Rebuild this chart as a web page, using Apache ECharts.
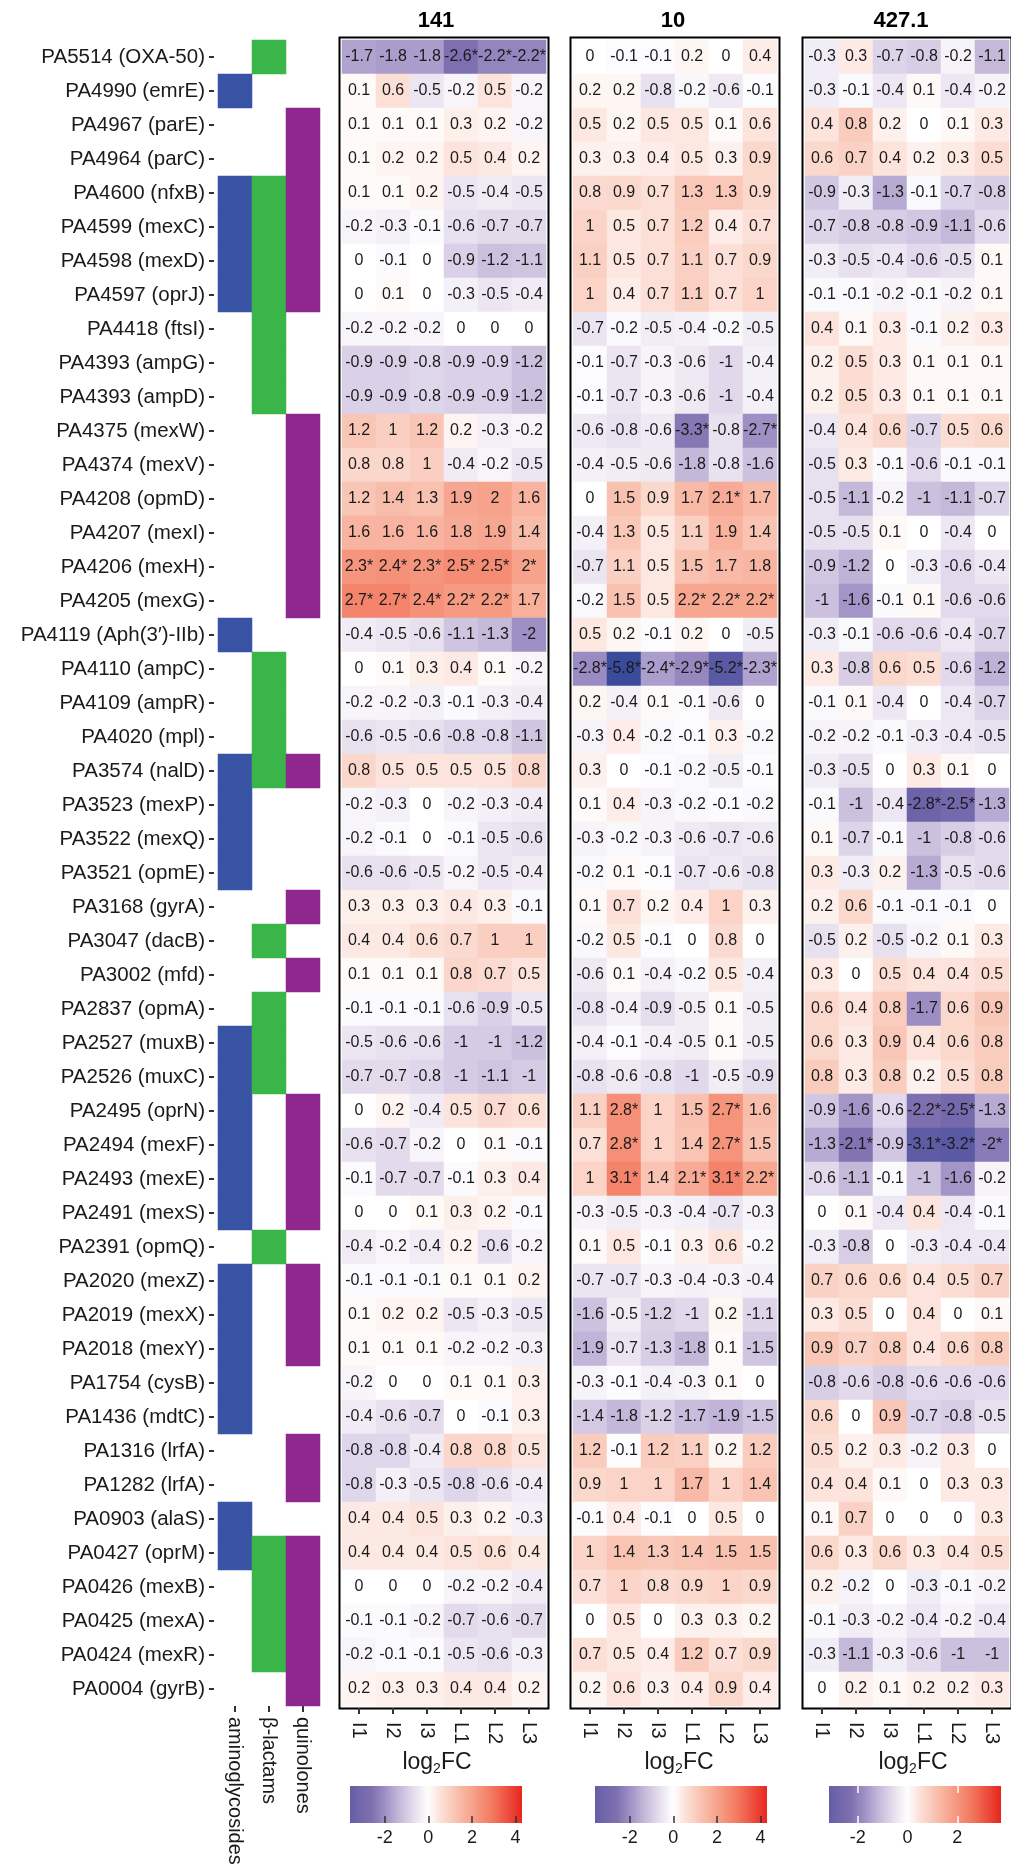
<!DOCTYPE html>
<html>
<head>
<meta charset="utf-8">
<title>Efflux / resistance gene expression heatmap</title>
<script src="https://cdn.jsdelivr.net/npm/echarts@6/dist/echarts.min.js"></script>
<style>
  html, body { margin: 0; padding: 0; background: #fff; }
  #chart { width: 1011px; height: 1870px; }
</style>
</head>
<body>
<div id="chart"></div>
<script>
// ---- data ---------------------------------------------------------------
const genes = [
  'PA5514 (OXA-50)', 'PA4990 (emrE)', 'PA4967 (parE)', 'PA4964 (parC)', 'PA4600 (nfxB)',
  'PA4599 (mexC)', 'PA4598 (mexD)', 'PA4597 (oprJ)', 'PA4418 (ftsI)', 'PA4393 (ampG)',
  'PA4393 (ampD)', 'PA4375 (mexW)', 'PA4374 (mexV)', 'PA4208 (opmD)', 'PA4207 (mexI)',
  'PA4206 (mexH)', 'PA4205 (mexG)', 'PA4119 (Aph(3′)-IIb)', 'PA4110 (ampC)', 'PA4109 (ampR)',
  'PA4020 (mpl)', 'PA3574 (nalD)', 'PA3523 (mexP)', 'PA3522 (mexQ)', 'PA3521 (opmE)',
  'PA3168 (gyrA)', 'PA3047 (dacB)', 'PA3002 (mfd)', 'PA2837 (opmA)', 'PA2527 (muxB)',
  'PA2526 (muxC)', 'PA2495 (oprN)', 'PA2494 (mexF)', 'PA2493 (mexE)', 'PA2491 (mexS)',
  'PA2391 (opmQ)', 'PA2020 (mexZ)', 'PA2019 (mexX)', 'PA2018 (mexY)', 'PA1754 (cysB)',
  'PA1436 (mdtC)', 'PA1316 (lrfA)', 'PA1282 (lrfA)', 'PA0903 (alaS)', 'PA0427 (oprM)',
  'PA0426 (mexB)', 'PA0425 (mexA)', 'PA0424 (mexR)', 'PA0004 (gyrB)'
];

const conditions = ['I1', 'I2', 'I3', 'L1', 'L2', 'L3'];

const drugClasses = ['aminoglycosides', 'β-lactams', 'quinolones'];

// rows of genes (index into `genes`) linked to each drug class
const aminoglycosideGenes = [1, 4, 5, 6, 7, 17, 21, 22, 23, 24, 29, 30, 31, 32, 33, 34, 36, 37, 38, 39, 40, 43, 44];
const betaLactamGenes = [0, 4, 5, 6, 7, 8, 9, 10, 18, 19, 20, 21, 26, 28, 29, 30, 35, 44, 45, 46, 47];
const quinoloneGenes = [2, 3, 4, 5, 6, 7, 11, 12, 13, 14, 15, 16, 21, 25, 27, 31, 32, 33, 34, 36, 37, 38, 41, 42, 44, 45, 46, 47, 48];

// log2 fold change, one row per gene, columns I1 I2 I3 L1 L2 L3
const strain141 = [
  [-1.7, -1.8, -1.8, -2.6, -2.2, -2.2],
  [0.1, 0.6, -0.5, -0.2, 0.5, -0.2],
  [0.1, 0.1, 0.1, 0.3, 0.2, -0.2],
  [0.1, 0.2, 0.2, 0.5, 0.4, 0.2],
  [0.1, 0.1, 0.2, -0.5, -0.4, -0.5],
  [-0.2, -0.3, -0.1, -0.6, -0.7, -0.7],
  [0, -0.1, 0, -0.9, -1.2, -1.1],
  [0, 0.1, 0, -0.3, -0.5, -0.4],
  [-0.2, -0.2, -0.2, 0, 0, 0],
  [-0.9, -0.9, -0.8, -0.9, -0.9, -1.2],
  [-0.9, -0.9, -0.8, -0.9, -0.9, -1.2],
  [1.2, 1, 1.2, 0.2, -0.3, -0.2],
  [0.8, 0.8, 1, -0.4, -0.2, -0.5],
  [1.2, 1.4, 1.3, 1.9, 2, 1.6],
  [1.6, 1.6, 1.6, 1.8, 1.9, 1.4],
  [2.3, 2.4, 2.3, 2.5, 2.5, 2],
  [2.7, 2.7, 2.4, 2.2, 2.2, 1.7],
  [-0.4, -0.5, -0.6, -1.1, -1.3, -2],
  [0, 0.1, 0.3, 0.4, 0.1, -0.2],
  [-0.2, -0.2, -0.3, -0.1, -0.3, -0.4],
  [-0.6, -0.5, -0.6, -0.8, -0.8, -1.1],
  [0.8, 0.5, 0.5, 0.5, 0.5, 0.8],
  [-0.2, -0.3, 0, -0.2, -0.3, -0.4],
  [-0.2, -0.1, 0, -0.1, -0.5, -0.6],
  [-0.6, -0.6, -0.5, -0.2, -0.5, -0.4],
  [0.3, 0.3, 0.3, 0.4, 0.3, -0.1],
  [0.4, 0.4, 0.6, 0.7, 1, 1],
  [0.1, 0.1, 0.1, 0.8, 0.7, 0.5],
  [-0.1, -0.1, -0.1, -0.6, -0.9, -0.5],
  [-0.5, -0.6, -0.6, -1, -1, -1.2],
  [-0.7, -0.7, -0.8, -1, -1.1, -1],
  [0, 0.2, -0.4, 0.5, 0.7, 0.6],
  [-0.6, -0.7, -0.2, 0, 0.1, -0.1],
  [-0.1, -0.7, -0.7, -0.1, 0.3, 0.4],
  [0, 0, 0.1, 0.3, 0.2, -0.1],
  [-0.4, -0.2, -0.4, 0.2, -0.6, -0.2],
  [-0.1, -0.1, -0.1, 0.1, 0.1, 0.2],
  [0.1, 0.2, 0.2, -0.5, -0.3, -0.5],
  [0.1, 0.1, 0.1, -0.2, -0.2, -0.3],
  [-0.2, 0, 0, 0.1, 0.1, 0.3],
  [-0.4, -0.6, -0.7, 0, -0.1, 0.3],
  [-0.8, -0.8, -0.4, 0.8, 0.8, 0.5],
  [-0.8, -0.3, -0.5, -0.8, -0.6, -0.4],
  [0.4, 0.4, 0.5, 0.3, 0.2, -0.3],
  [0.4, 0.4, 0.4, 0.5, 0.6, 0.4],
  [0, 0, 0, -0.2, -0.2, -0.4],
  [-0.1, -0.1, -0.2, -0.7, -0.6, -0.7],
  [-0.2, -0.1, -0.1, -0.5, -0.6, -0.3],
  [0.2, 0.3, 0.3, 0.4, 0.4, 0.2]
];

const strain10 = [
  [0, -0.1, -0.1, 0.2, 0, 0.4],
  [0.2, 0.2, -0.8, -0.2, -0.6, -0.1],
  [0.5, 0.2, 0.5, 0.5, 0.1, 0.6],
  [0.3, 0.3, 0.4, 0.5, 0.3, 0.9],
  [0.8, 0.9, 0.7, 1.3, 1.3, 0.9],
  [1, 0.5, 0.7, 1.2, 0.4, 0.7],
  [1.1, 0.5, 0.7, 1.1, 0.7, 0.9],
  [1, 0.4, 0.7, 1.1, 0.7, 1],
  [-0.7, -0.2, -0.5, -0.4, -0.2, -0.5],
  [-0.1, -0.7, -0.3, -0.6, -1, -0.4],
  [-0.1, -0.7, -0.3, -0.6, -1, -0.4],
  [-0.6, -0.8, -0.6, -3.3, -0.8, -2.7],
  [-0.4, -0.5, -0.6, -1.8, -0.8, -1.6],
  [0, 1.5, 0.9, 1.7, 2.1, 1.7],
  [-0.4, 1.3, 0.5, 1.1, 1.9, 1.4],
  [-0.7, 1.1, 0.5, 1.5, 1.7, 1.8],
  [-0.2, 1.5, 0.5, 2.2, 2.2, 2.2],
  [0.5, 0.2, -0.1, 0.2, 0, -0.5],
  [-2.8, -5.8, -2.4, -2.9, -5.2, -2.3],
  [0.2, -0.4, 0.1, -0.1, -0.6, 0],
  [-0.3, 0.4, -0.2, -0.1, 0.3, -0.2],
  [0.3, 0, -0.1, -0.2, -0.5, -0.1],
  [0.1, 0.4, -0.3, -0.2, -0.1, -0.2],
  [-0.3, -0.2, -0.3, -0.6, -0.7, -0.6],
  [-0.2, 0.1, -0.1, -0.7, -0.6, -0.8],
  [0.1, 0.7, 0.2, 0.4, 1, 0.3],
  [-0.2, 0.5, -0.1, 0, 0.8, 0],
  [-0.6, 0.1, -0.4, -0.2, 0.5, -0.4],
  [-0.8, -0.4, -0.9, -0.5, 0.1, -0.5],
  [-0.4, -0.1, -0.4, -0.5, 0.1, -0.5],
  [-0.8, -0.6, -0.8, -1, -0.5, -0.9],
  [1.1, 2.8, 1, 1.5, 2.7, 1.6],
  [0.7, 2.8, 1, 1.4, 2.7, 1.5],
  [1, 3.1, 1.4, 2.1, 3.1, 2.2],
  [-0.3, -0.5, -0.3, -0.4, -0.7, -0.3],
  [0.1, 0.5, -0.1, 0.3, 0.6, -0.2],
  [-0.7, -0.7, -0.3, -0.4, -0.3, -0.4],
  [-1.6, -0.5, -1.2, -1, 0.2, -1.1],
  [-1.9, -0.7, -1.3, -1.8, 0.1, -1.5],
  [-0.3, -0.1, -0.4, -0.3, 0.1, 0],
  [-1.4, -1.8, -1.2, -1.7, -1.9, -1.5],
  [1.2, -0.1, 1.2, 1.1, 0.2, 1.2],
  [0.9, 1, 1, 1.7, 1, 1.4],
  [-0.1, 0.4, -0.1, 0, 0.5, 0],
  [1, 1.4, 1.3, 1.4, 1.5, 1.5],
  [0.7, 1, 0.8, 0.9, 1, 0.9],
  [0, 0.5, 0, 0.3, 0.3, 0.2],
  [0.7, 0.5, 0.4, 1.2, 0.7, 0.9],
  [0.2, 0.6, 0.3, 0.4, 0.9, 0.4]
];

const strain427 = [
  [-0.3, 0.3, -0.7, -0.8, -0.2, -1.1],
  [-0.3, -0.1, -0.4, 0.1, -0.4, -0.2],
  [0.4, 0.8, 0.2, 0, 0.1, 0.3],
  [0.6, 0.7, 0.4, 0.2, 0.3, 0.5],
  [-0.9, -0.3, -1.3, -0.1, -0.7, -0.8],
  [-0.7, -0.8, -0.8, -0.9, -1.1, -0.6],
  [-0.3, -0.5, -0.4, -0.6, -0.5, 0.1],
  [-0.1, -0.1, -0.2, -0.1, -0.2, 0.1],
  [0.4, 0.1, 0.3, -0.1, 0.2, 0.3],
  [0.2, 0.5, 0.3, 0.1, 0.1, 0.1],
  [0.2, 0.5, 0.3, 0.1, 0.1, 0.1],
  [-0.4, 0.4, 0.6, -0.7, 0.5, 0.6],
  [-0.5, 0.3, -0.1, -0.6, -0.1, -0.1],
  [-0.5, -1.1, -0.2, -1, -1.1, -0.7],
  [-0.5, -0.5, 0.1, 0, -0.4, 0],
  [-0.9, -1.2, 0, -0.3, -0.6, -0.4],
  [-1, -1.6, -0.1, 0.1, -0.6, -0.6],
  [-0.3, -0.1, -0.6, -0.6, -0.4, -0.7],
  [0.3, -0.8, 0.6, 0.5, -0.6, -1.2],
  [-0.1, 0.1, -0.4, 0, -0.4, -0.7],
  [-0.2, -0.2, -0.1, -0.3, -0.4, -0.5],
  [-0.3, -0.5, 0, 0.3, 0.1, 0],
  [-0.1, -1, -0.4, -2.8, -2.5, -1.3],
  [0.1, -0.7, -0.1, -1, -0.8, -0.6],
  [0.3, -0.3, 0.2, -1.3, -0.5, -0.6],
  [0.2, 0.6, -0.1, -0.1, -0.1, 0],
  [-0.5, 0.2, -0.5, -0.2, 0.1, 0.3],
  [0.3, 0, 0.5, 0.4, 0.4, 0.5],
  [0.6, 0.4, 0.8, -1.7, 0.6, 0.9],
  [0.6, 0.3, 0.9, 0.4, 0.6, 0.8],
  [0.8, 0.3, 0.8, 0.2, 0.5, 0.8],
  [-0.9, -1.6, -0.6, -2.2, -2.5, -1.3],
  [-1.3, -2.1, -0.9, -3.1, -3.2, -2],
  [-0.6, -1.1, -0.1, -1, -1.6, -0.2],
  [0, 0.1, -0.4, 0.4, -0.4, -0.1],
  [-0.3, -0.8, 0, -0.3, -0.4, -0.4],
  [0.7, 0.6, 0.6, 0.4, 0.5, 0.7],
  [0.3, 0.5, 0, 0.4, 0, 0.1],
  [0.9, 0.7, 0.8, 0.4, 0.6, 0.8],
  [-0.8, -0.6, -0.8, -0.6, -0.6, -0.6],
  [0.6, 0, 0.9, -0.7, -0.8, -0.5],
  [0.5, 0.2, 0.3, -0.2, 0.3, 0],
  [0.4, 0.4, 0.1, 0, 0.3, 0.3],
  [0.1, 0.7, 0, 0, 0, 0.3],
  [0.6, 0.3, 0.6, 0.3, 0.4, 0.5],
  [0.2, -0.2, 0, -0.3, -0.1, -0.2],
  [-0.1, -0.3, -0.2, -0.4, -0.2, -0.4],
  [-0.3, -1.1, -0.3, -0.6, -1, -1],
  [0, 0.2, 0.1, 0.2, 0.2, 0.3]
];

// significant changes, as [gene row, condition column]
const sig141 = [[0, 3], [0, 4], [0, 5],
  [15, 0], [15, 1], [15, 2], [15, 3], [15, 4], [15, 5],
  [16, 0], [16, 1], [16, 2], [16, 3], [16, 4]];
const sig10 = [[11, 3], [11, 5], [13, 4], [16, 3], [16, 4], [16, 5],
  [18, 0], [18, 1], [18, 2], [18, 3], [18, 4], [18, 5],
  [31, 1], [31, 4], [32, 1], [32, 4], [33, 1], [33, 3], [33, 4], [33, 5]];
const sig427 = [[22, 3], [22, 4], [31, 3], [31, 4], [32, 1], [32, 3], [32, 4], [32, 5]];

const strainNames = ['141', '10', '427.1'];
const colorbarTicks141 = [-2, 0, 2, 4];
const colorbarTicks10 = [-2, 0, 2, 4];
const colorbarTicks427 = [-2, 0, 2];

// ---- styling ------------------------------------------------------------
const FONT = '"Liberation Sans", Arial, Helvetica, sans-serif';
const TXT = '#1a1a1a';
const CLASS_COLORS = ['#3953a4', '#3ab54a', '#8e288f'];

// diverging purple - white - red ramp (value -> rgb)
const RAMP = [
  [-4.3, [58, 75, 155]], [-3.8, [92, 90, 165]], [-3.3, [110, 100, 170]],
  [-2.6, [126, 112, 176]], [-2.0, [158, 144, 196]], [-1.5, [188, 175, 213]],
  [-1.0, [213, 203, 228]], [-0.5, [236, 230, 242]], [0, [255, 255, 255]],
  [0.5, [252, 228, 220]], [1.0, [250, 206, 192]], [1.5, [248, 184, 165]],
  [2.0, [247, 163, 140]], [2.5, [245, 140, 116]], [3.0, [242, 118, 94]],
  [4.3, [232, 38, 30]]
];
function rampColor(v) {
  if (v <= RAMP[0][0]) return 'rgb(' + RAMP[0][1].join(',') + ')';
  const last = RAMP[RAMP.length - 1];
  if (v >= last[0]) return 'rgb(' + last[1].join(',') + ')';
  for (let i = 0; i < RAMP.length - 1; i++) {
    const a = RAMP[i], b = RAMP[i + 1];
    if (v >= a[0] && v <= b[0]) {
      const t = (v - a[0]) / (b[0] - a[0]);
      const c = a[1].map((x, k) => Math.round(x + (b[1][k] - x) * t));
      return 'rgb(' + c.join(',') + ')';
    }
  }
  return '#fff';
}

// layout of the three strain panels
const GRID_TOP = 40, GRID_H = 1666, CELL_W = 204;
const panels = [
  { name: strainNames[0], values: strain141, sig: sig141, left: 342, titleX: 436,
    kNeg: 1.0, kPos: 1.0, bar: { left: 350, min: -3.6, max: 4.3, k: 1, ticks: colorbarTicks141, tickColor: '#333' }, legendX: 437 },
  { name: strainNames[1], values: strain10, sig: sig10, left: 573, titleX: 673,
    kNeg: 0.74, kPos: 0.87, bar: { left: 595, min: -3.6, max: 4.3, k: 1, ticks: colorbarTicks10, tickColor: '#333' }, legendX: 679 },
  { name: strainNames[2], values: strain427, sig: sig427, left: 805, titleX: 901,
    kNeg: 1.2, kPos: 1.3, bar: { left: 829, min: -3.15, max: 3.75, k: 1.15, ticks: colorbarTicks427, tickColor: '#fff' }, legendX: 913 }
];

const grids = [], xAxes = [], yAxes = [], series = [], graphics = [];

// drug-class annotation strip with gene names
grids.push({ left: 218, top: GRID_TOP, width: 102, height: GRID_H, outerBoundsMode: 'none' });
xAxes.push({
  gridIndex: 0, type: 'category', data: drugClasses, position: 'bottom',
  axisLine: { show: false },
  axisTick: { show: true, length: 6, alignWithLabel: true, lineStyle: { color: '#333', width: 2 } },
  axisLabel: { rotate: -90, margin: 11, fontSize: 20, color: TXT, fontFamily: FONT }
});
yAxes.push({
  gridIndex: 0, type: 'category', data: genes, inverse: true, offset: 4,
  axisLine: { show: false },
  axisTick: { show: true, length: 5, alignWithLabel: true, lineStyle: { color: '#333', width: 2 } },
  axisLabel: { margin: 9, fontSize: 20.5, color: TXT, fontFamily: FONT }
});
const annotData = [];
[aminoglycosideGenes, betaLactamGenes, quinoloneGenes].forEach((rows, c) => {
  rows.forEach(r => annotData.push({ value: [c, r, 1], itemStyle: { color: CLASS_COLORS[c] } }));
});
series.push({
  type: 'heatmap', xAxisIndex: 0, yAxisIndex: 0, data: annotData,
  itemStyle: { borderWidth: 0 }, emphasis: { disabled: true }, silent: true
});

// strain heatmaps
panels.forEach((p, i) => {
  const gi = grids.length;
  grids.push({ left: p.left, top: GRID_TOP, width: CELL_W, height: GRID_H, outerBoundsMode: 'none' });
  xAxes.push({
    gridIndex: gi, type: 'category', data: conditions, position: 'bottom', offset: 2,
    axisLine: { show: false },
    axisTick: { show: true, length: 6, alignWithLabel: true, lineStyle: { color: '#333', width: 2 } },
    axisLabel: { rotate: -90, margin: 14, fontSize: 20, color: TXT, fontFamily: FONT }
  });
  yAxes.push({ gridIndex: gi, type: 'category', data: genes, inverse: true, show: false });
  const sigSet = new Set(p.sig.map(s => s[0] + ':' + s[1]));
  const data = [];
  p.values.forEach((row, r) => {
    row.forEach((v, c) => {
      const scaled = v < 0 ? v * p.kNeg : v * p.kPos;
      data.push({
        value: [c, r, v],
        label: { formatter: String(v) + (sigSet.has(r + ':' + c) ? '*' : '') },
        itemStyle: { color: rampColor(scaled) }
      });
    });
  });
  series.push({
    type: 'heatmap', xAxisIndex: gi, yAxisIndex: gi, data: data,
    label: { show: true, fontSize: 16, color: TXT, fontFamily: FONT },
    itemStyle: { borderWidth: 0 }, emphasis: { disabled: true }, silent: true
  });
});

// black frames around the strain panels
panels.forEach(p => {
  const gi = grids.length;
  grids.push({
    left: p.left - 2.5, top: GRID_TOP - 2.5, width: CELL_W + 5, height: GRID_H + 5,
    show: true, borderColor: '#000', borderWidth: 2, backgroundColor: 'transparent', outerBoundsMode: 'none'
  });
  xAxes.push({ gridIndex: gi, type: 'value', min: 0, max: 1, show: false });
  yAxes.push({ gridIndex: gi, type: 'value', min: 0, max: 1, show: false });
});

// colour bars
panels.forEach(p => {
  const gi = grids.length;
  const b = p.bar;
  grids.push({ left: b.left, top: 1786, width: 172, height: 37, outerBoundsMode: 'none' });
  xAxes.push({
    gridIndex: gi, type: 'value', min: b.min, max: b.max, position: 'bottom', z: 10,
    axisLine: { show: false }, splitLine: { show: false },
    axisTick: { show: true, inside: true, length: 7, customValues: b.ticks, lineStyle: { color: b.tickColor, width: 1.5 } },
    axisLabel: { show: true, customValues: b.ticks, margin: 6, fontSize: 18, color: TXT, fontFamily: FONT }
  });
  yAxes.push({ gridIndex: gi, type: 'value', min: 0, max: 1, show: false });
  const stops = [];
  const N = 40;
  for (let s = 0; s <= N; s++) {
    const v = b.min + (b.max - b.min) * s / N;
    stops.push({ offset: s / N, color: rampColor(v * b.k) });
  }
  series.push({
    type: 'custom', xAxisIndex: xAxes.length - 1, yAxisIndex: yAxes.length - 1, z: 1, silent: true,
    data: [[b.min, b.max]],
    renderItem: function (params, api) {
      const p0 = api.coord([api.value(0), 0]);
      const p1 = api.coord([api.value(1), 1]);
      return {
        type: 'rect',
        shape: { x: p0[0], y: p1[1], width: p1[0] - p0[0], height: p0[1] - p1[1] },
        style: { fill: new echarts.graphic.LinearGradient(0, 0, 1, 0, stops) }
      };
    }
  });
  if (b.tickColor === '#fff') {
    xAxes.push({
      gridIndex: gi, type: 'value', min: b.min, max: b.max, position: 'top', z: 10,
      axisLine: { show: false }, splitLine: { show: false }, axisLabel: { show: false },
      axisTick: { show: true, inside: true, length: 7, customValues: b.ticks, lineStyle: { color: '#fff', width: 1.5 } }
    });
  }
});

// panel titles and colour-bar titles
panels.forEach(p => {
  graphics.push({
    type: 'text', x: p.titleX, y: 21,
    style: { text: p.name, font: 'bold 22px ' + FONT, fill: '#000', textAlign: 'center', textVerticalAlign: 'middle' }
  });
  graphics.push({
    type: 'text', x: p.legendX, y: 1763,
    style: {
      text: '{m|log}{s|2}{m|FC}', textAlign: 'center', textVerticalAlign: 'middle',
      rich: {
        m: { fontSize: 23, fontFamily: FONT, fill: TXT, color: TXT },
        s: { fontSize: 14, fontFamily: FONT, fill: TXT, color: TXT, padding: [12, 0, 0, 0] }
      }
    }
  });
});

const chart = echarts.init(document.getElementById('chart'), null, { renderer: 'canvas' });
chart.setOption({
  animation: false,
  backgroundColor: '#ffffff',
  textStyle: { fontFamily: FONT },
  grid: grids,
  xAxis: xAxes,
  yAxis: yAxes,
  series: series,
  graphic: graphics
});
</script>
</body>
</html>
